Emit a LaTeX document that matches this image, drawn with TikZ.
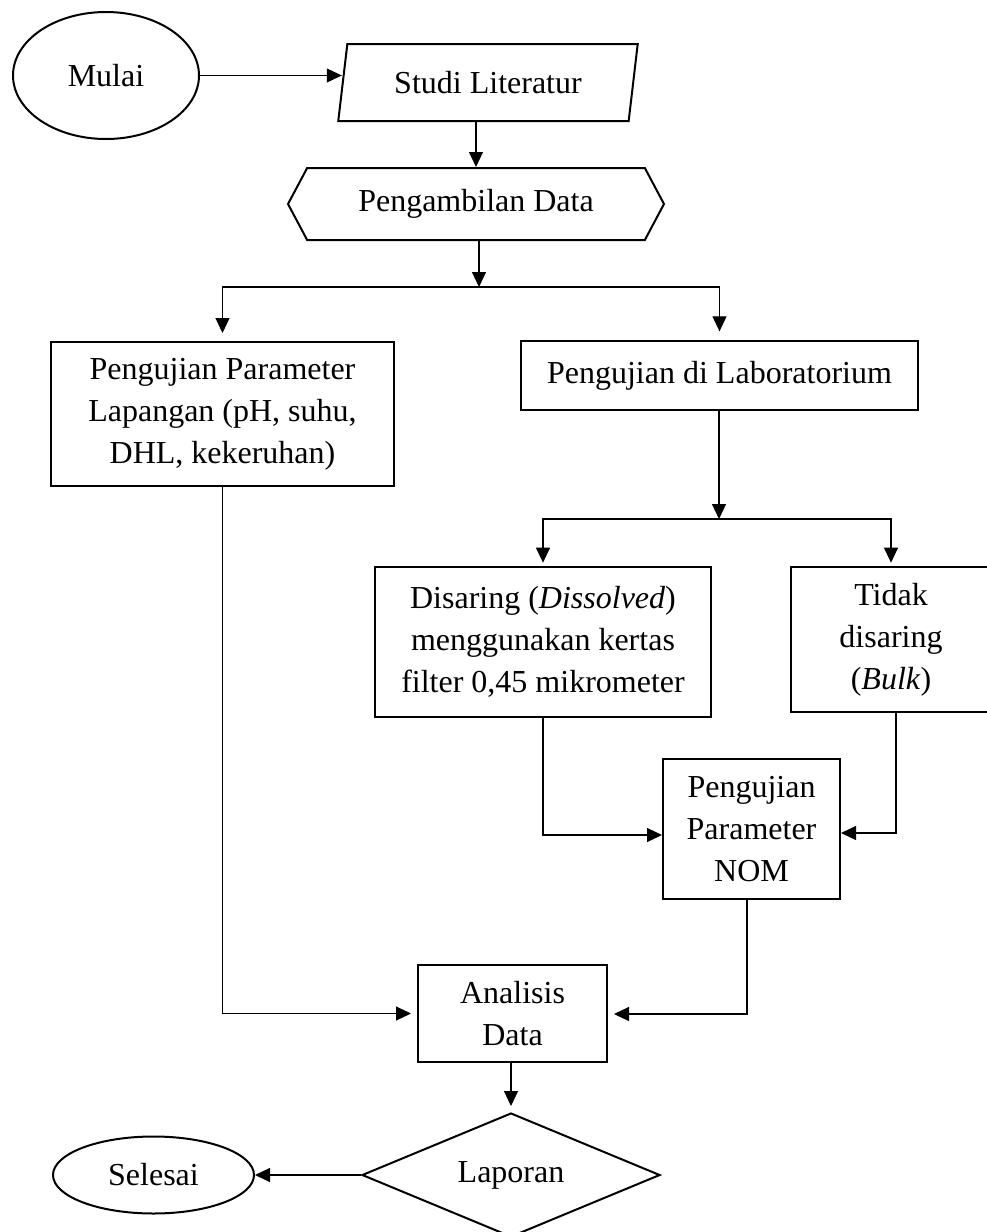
\documentclass[tikz,border=0pt]{standalone}
\usepackage{fontspec}
\setmainfont{Liberation Serif}
\usetikzlibrary{arrows.meta,shapes.geometric,shapes.symbols}
\begin{document}
\begin{tikzpicture}[x=0.75pt,y=-0.75pt,
  every node/.style={font=\fontsize{24}{31.5}\selectfont, align=center, inner sep=0pt},
  box/.style={draw, line width=1.5pt, rectangle},
  oval/.style={draw, line width=1.5pt, ellipse},
  arr/.style={draw, line width=0.8pt, -{Triangle[length=11.25pt,width=10.5pt]}},
  ln/.style={draw, line width=0.8pt}
]
\useasboundingbox (0,0) rectangle (986,1232);

\node[oval, minimum width=139.5pt, minimum height=95.25pt] (mulai) at (106,75.5) {Mulai};
\node[draw, line width=1.5pt, trapezium, trapezium left angle=75, trapezium right angle=105,
      trapezium stretches=true, minimum width=225pt, minimum height=57.75pt] (studi) at (488,82.5) {Studi Literatur};
\node[draw, line width=1.5pt, signal, signal to=east and west, signal pointer angle=124,
      minimum width=282pt, minimum height=54pt] (hex) at (476,204) {Pengambilan Data};
\node[box, minimum width=257.25pt, minimum height=108pt] (lbox) at (222.5,414)
  {Pengujian Parameter\\Lapangan (pH, suhu,\\DHL, kekeruhan)};
\node[box, minimum width=297.75pt, minimum height=51.75pt] (lab) at (719.5,375.5) {Pengujian di Laboratorium};
\node[box, minimum width=252pt, minimum height=112.5pt] (dis) at (543,642)
  {Disaring (\textit{Dissolved})\\menggunakan kertas\\filter 0,45 mikrometer};
\node[box, minimum width=150pt, minimum height=108.75pt] (tid) at (891,639.5)
  {Tidak\\disaring\\(\textit{Bulk})};
\node[box, minimum width=132.75pt, minimum height=105pt] (nom) at (751.5,829)
  {Pengujian\\Parameter\\NOM};
\node[box, minimum width=141.75pt, minimum height=72.75pt] (ana) at (512.5,1013.5)
  {Analisis\\Data};
\node[draw, line width=1.5pt, diamond, shape aspect=2.4, minimum width=223.5pt, minimum height=93pt] (lap) at (511,1175) {Laporan};
\node[oval, minimum width=150.75pt, minimum height=57.75pt] (sel) at (153.5,1175) {Selesai};

\coordinate (j1) at (479,287);
\coordinate (j2) at (719,519);
\coordinate (j3) at (543,835);
\coordinate (j4) at (896,833);
\coordinate (j5) at (747,1014);

\draw[arr] (mulai.east) -- (mulai.east -| studi.west);
\draw[arr] (hex.north |- studi.south) -- (hex.north);
\draw[arr] (hex.south -| j1) -- (j1);
\draw[arr, shorten >=6pt] (j1) -| (lbox.north);
\draw[arr, shorten >=6.5pt] (j1) -| (lab.north);
\draw[arr] (lab.south -| j2) -- (j2);
\draw[arr, shorten >=2.5pt] (j2) -| (dis.north);
\draw[arr, shorten >=2.5pt] (j2) -| (tid.north);
\draw[arr] (dis.south) -- (j3) -- (nom.west |- j3);
\draw[arr] (tid.south -| j4) -- (j4) -- (nom.east |- j4);
\draw[arr, shorten >=4.5pt] (lbox.south) |- (ana.west);
\draw[arr, shorten >=4.5pt] (nom.south -| j5) -- (j5) -- (ana.east |- j5);
\draw[arr, shorten >=4.5pt] (ana.south -| lap.north) -- (lap.north);
\draw[arr] (lap.west) -- (sel.east);
\end{tikzpicture}
\end{document}
